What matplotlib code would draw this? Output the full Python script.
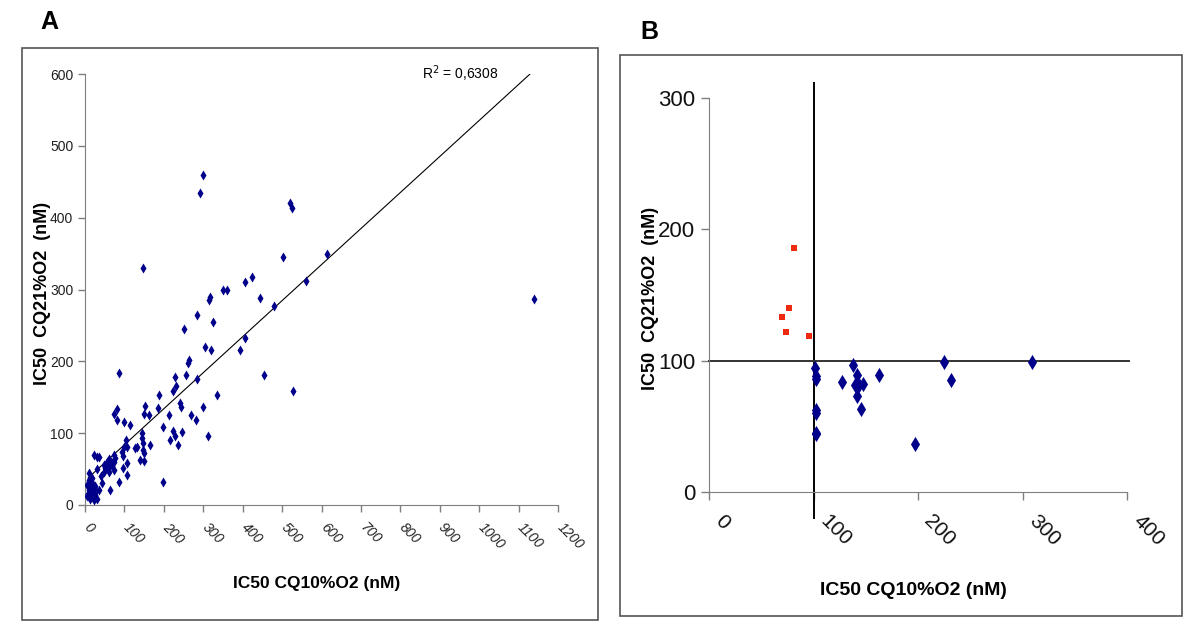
import matplotlib
matplotlib.use("Agg")
import matplotlib.pyplot as plt
from matplotlib.patches import Rectangle
from matplotlib.transforms import ScaledTranslation
from matplotlib import font_manager

# ---- Panel A data: IC50 at 10% O2 vs 21% O2 (nM) ----
A_X = [299, 292, 520, 525, 1140,
       147, 503, 614, 560, 424, 407, 351, 359, 314, 317, 445, 479, 283, 325, 251,
       407, 393, 305, 320, 265, 262, 85, 455, 255, 229, 283, 232, 224, 188, 335, 528,
       241, 243, 152, 150, 163, 185, 214, 268, 282, 300, 313, 100, 114, 199, 224, 228,
       247, 216, 237, 144, 144, 146, 146, 150, 150, 165, 133, 103, 106, 97, 106, 96,
       106, 199, 81, 74, 81,
       22, 30, 43, 64, 86, 18, 26, 13, 35, 26, 18, 9, 5, 22, 30, 18, 9, 47, 52, 69,
       73, 73, 77, 64, 60, 73, 94, 98, 128, 140, 14, 36, 5, 10, 30, 40, 55, 60, 68,
       58, 48, 15, 8, 20, 28, 12]
A_Y = [460, 434, 420, 414, 287,
       330, 345, 349, 312, 317, 311, 299, 299, 286, 289, 288, 277, 264, 255, 245,
       233, 216, 220, 216, 202, 198, 184, 181, 181, 178, 175, 166, 159, 153, 153, 159,
       142, 137, 138, 127, 125, 135, 125, 125, 118, 137, 96, 115, 111, 109, 103, 96,
       102, 90, 84, 100, 93, 86, 77, 72, 61, 84, 81, 90, 81, 68, 59, 51,
       42, 32, 134, 127, 118,
       70, 67, 30, 21, 32, 30, 14, 9, 21, 26, 16, 21, 12, 7, 9, 37, 35, 46, 51, 54,
       60, 70, 65, 56, 46, 49, 74, 81, 79, 63, 33, 67, 28, 45, 50, 40, 60, 64, 58,
       52, 55, 18, 15, 22, 20, 25]

# trend line
TREND_X = [8, 1131]
TREND_SLOPE = 0.5016
TREND_INTERCEPT = 33.7
R2_TEXT = "R$^2$ = 0,6308"

A_XTICKS = list(range(0, 1201, 100))
A_YTICKS = list(range(0, 601, 100))

# ---- Panel B data ----
B_BLUE_X = [101, 102, 102, 102, 102, 102, 102, 127, 138, 142, 140, 144, 147, 142, 145,
            163, 197, 225, 232, 309]
B_BLUE_Y = [94, 88, 86, 62, 60, 45, 44, 84, 97, 89, 81, 81, 82, 73, 63,
            89, 36, 99, 85, 99]
B_RED_X = [70, 77, 74, 96, 81]
B_RED_Y = [133, 140, 122, 119, 186]
B_CUT_X = 100
B_CUT_Y = 100
B_XTICKS = [0, 100, 200, 300, 400]
B_YTICKS = [0, 100, 200, 300]

XLABEL = "IC50 CQ10%O2 (nM)"
YLABEL = "IC50  CQ21%O2  (nM)"

available = {f.name for f in font_manager.fontManager.ttflist}
NARROW = ["Liberation Sans Narrow", "Liberation Sans"] if "Liberation Sans Narrow" in available else ["Liberation Sans"]
WIDE = ["Liberation Sans", "DejaVu Sans"]

NAVY = "#00008B"
GRAY = "#7f7f7f"

fig = plt.figure(figsize=(12, 6.36), dpi=100)
W, H = 1200, 636

def px_rect(left, top, right, bottom):
    return [left / W, 1 - bottom / H, (right - left) / W, (bottom - top) / H]

def shift_labels(labels, dx_px):
    off = ScaledTranslation(dx_px / 100, 0, fig.dpi_scale_trans)
    for lab in labels:
        lab.set_transform(lab.get_transform() + off)

# frames around the panels
fig.patches.append(Rectangle((22 / W, 1 - 620 / H), (598 - 22) / W, (620 - 48) / H,
                             transform=fig.transFigure, fill=False, ec="#555555", lw=1.2))
fig.patches.append(Rectangle((620 / W, 1 - 616 / H), (1182 - 620) / W, (616 - 55) / H,
                             transform=fig.transFigure, fill=False, ec="#555555", lw=1.2))
fig.text(40 / W, 1 - 22 / H, "A", fontsize=18, fontweight="bold", family=WIDE, va="center")
fig.text(640 / W, 1 - 32 / H, "B", fontsize=18, fontweight="bold", family=WIDE, va="center")

# ---------- Panel A ----------
ax = fig.add_axes(px_rect(85, 74, 558, 505))
ax.scatter(A_X, A_Y, marker="d", s=26, color=NAVY, linewidths=0, zorder=3)
tx = [TREND_X[0], TREND_X[1]]
ty = [TREND_INTERCEPT + TREND_SLOPE * v for v in tx]
ax.plot(tx, ty, color="black", lw=0.8, zorder=2)
ax.text(855, 600, R2_TEXT, fontsize=10, family=NARROW, ha="left", va="center")

ax.set_xlim(0, 1200)
ax.set_ylim(0, 600)
ax.set_xticks(A_XTICKS)
ax.set_yticks(A_YTICKS)
for s in ["top", "right"]:
    ax.spines[s].set_visible(False)
for s in ["left", "bottom"]:
    ax.spines[s].set_color(GRAY)
ax.tick_params(axis="both", colors=GRAY, labelcolor="#222222", length=5, width=1,
               direction="out")
ax.tick_params(axis="x", pad=6)
xl = ax.set_xticklabels([str(t) for t in A_XTICKS], rotation=-45, ha="left", va="top",
                        rotation_mode="anchor", family=NARROW, fontsize=10, style="italic")
ax.set_yticklabels([str(t) for t in A_YTICKS], family=NARROW, fontsize=10)
shift_labels(xl, 6)
ax.set_xlabel(XLABEL, family=NARROW, fontsize=12.5, fontweight="bold")
ax.xaxis.set_label_coords(0.49, -0.164)
ax.set_ylabel(YLABEL, family=WIDE, fontsize=13, fontweight="bold")
ax.yaxis.set_label_coords(-0.072, 0.49)

# ---------- Panel B ----------
bx = fig.add_axes(px_rect(709, 98.3, 1127, 491.7))
bx.set_xlim(0, 400)
bx.set_ylim(0, 300)
bx.scatter(B_BLUE_X, B_BLUE_Y, marker="d", s=60, color=NAVY, linewidths=0, zorder=3, clip_on=False)
bx.scatter(B_RED_X, B_RED_Y, marker="s", s=24, color="#EE2A10", linewidths=0, zorder=3, clip_on=False)
bx.plot([B_CUT_X, B_CUT_X], [-20, 312], color="black", lw=1.4, clip_on=False, zorder=2)
bx.plot([0, 402], [B_CUT_Y, B_CUT_Y], color="#333333", lw=1.4, clip_on=False, zorder=2)

bx.set_xticks(B_XTICKS)
bx.set_yticks(B_YTICKS)
for s in ["top", "right"]:
    bx.spines[s].set_visible(False)
for s in ["left", "bottom"]:
    bx.spines[s].set_color(GRAY)
bx.tick_params(axis="both", colors=GRAY, labelcolor="#111111", length=6, width=1,
               direction="out")
bx.tick_params(axis="x", pad=8)
bx.tick_params(axis="y", pad=4)
bl = bx.set_xticklabels([str(t) for t in B_XTICKS], rotation=-45, ha="left", va="top",
                        rotation_mode="anchor", family=NARROW, fontsize=15)
bx.set_yticklabels([str(t) for t in B_YTICKS], family=NARROW, fontsize=16)
shift_labels(bl, 16)
bx.set_xlabel(XLABEL, family=NARROW, fontsize=14, fontweight="bold")
bx.xaxis.set_label_coords(0.49, -0.23)
bx.set_ylabel(YLABEL, family=WIDE, fontsize=13, fontweight="bold")
bx.yaxis.set_label_coords(-0.119, 0.49)

fig.savefig("out.png", dpi=100)
